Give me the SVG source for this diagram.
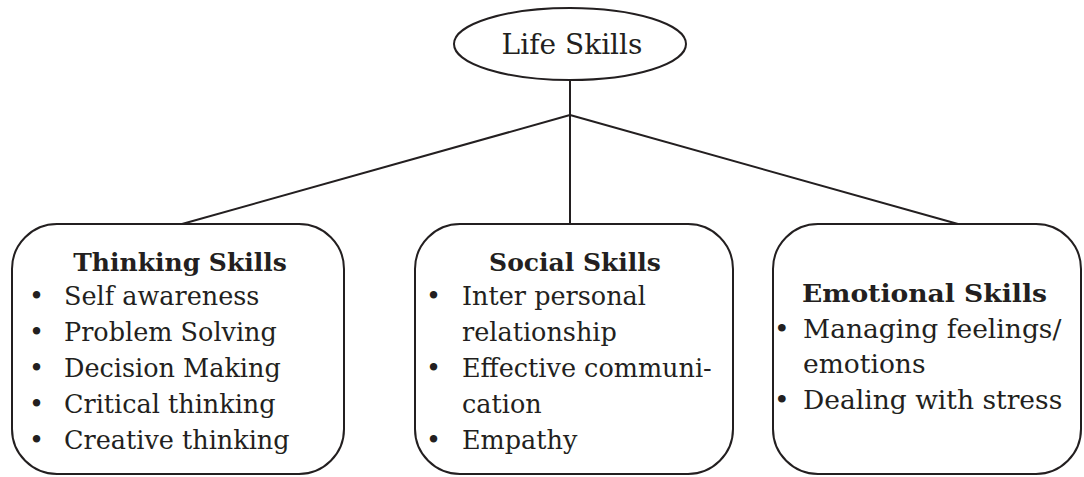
<svg xmlns="http://www.w3.org/2000/svg" width="1084" height="477" viewBox="0 0 1084 477">
<style>
.ln{stroke:#231f20;stroke-width:2;fill:none}
.bx{stroke:#231f20;stroke-width:2;fill:#fff}
text{font-family:"DejaVu Serif","Liberation Serif",serif;fill:#231f20;font-size:25.5px}
.t{font-weight:bold;font-size:25px}
.root{font-size:28px}
.em{font-size:26.5px}
</style>
<rect width="1084" height="477" fill="#fff"/>
<g id="connectors">
<line class="ln" x1="570" y1="80" x2="570" y2="225"/>
<line class="ln" x1="570" y1="115" x2="182" y2="224"/>
<line class="ln" x1="570" y1="115" x2="958" y2="224"/>
</g>
<g id="life-skills">
<ellipse class="bx" cx="570" cy="44" rx="116" ry="36"/>
<text class="root" x="572" y="54" text-anchor="middle">Life Skills</text>
</g>
<g id="thinking-skills">
<rect class="bx" x="12" y="224" width="332" height="250" rx="45" ry="45"/>
<text class="t" x="180" y="271" text-anchor="middle">Thinking Skills</text>
<text x="29" y="305">•</text><text x="64" y="305">Self awareness</text>
<text x="29" y="341">•</text><text x="64" y="341">Problem Solving</text>
<text x="29" y="377">•</text><text x="64" y="377">Decision Making</text>
<text x="29" y="413">•</text><text x="64" y="413">Critical thinking</text>
<text x="29" y="449">•</text><text x="64" y="449">Creative thinking</text>
</g>
<g id="social-skills">
<rect class="bx" x="415" y="224" width="318" height="250" rx="45" ry="45"/>
<text class="t" x="575" y="271" text-anchor="middle">Social Skills</text>
<text x="426" y="305">•</text><text x="462" y="305">Inter personal</text>
<text x="462" y="341">relationship</text>
<text x="426" y="377">•</text><text x="462" y="377">Effective communi-</text>
<text x="462" y="413">cation</text>
<text x="426" y="449">•</text><text x="462" y="449">Empathy</text>
</g>
<g id="emotional-skills">
<rect class="bx" x="773" y="224" width="308" height="250" rx="45" ry="45"/>
<text class="t" x="802" y="302" textLength="245" lengthAdjust="spacingAndGlyphs">Emotional Skills</text>
<text class="em" x="774" y="338">•</text><text class="em" x="803" y="338">Managing feelings/</text>
<text class="em" x="803" y="373">emotions</text>
<text class="em" x="774" y="409">•</text><text class="em" x="803" y="409">Dealing with stress</text>
</g>
</svg>
